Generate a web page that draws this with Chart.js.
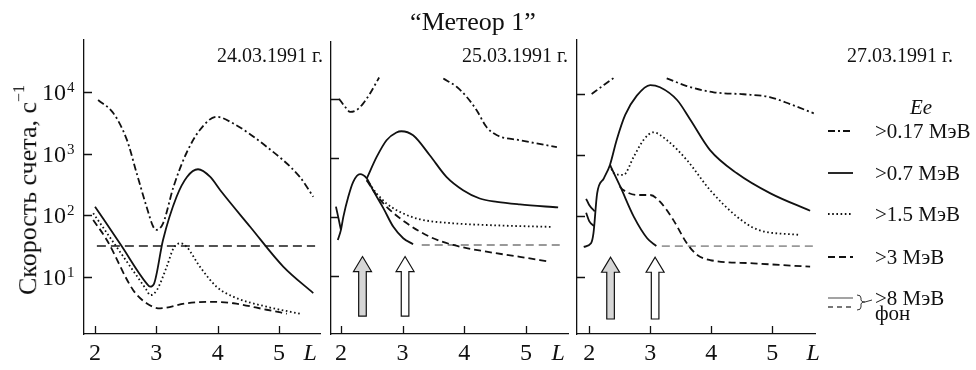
<!DOCTYPE html>
<html>
<head>
<meta charset="utf-8">
<script src="https://cdn.jsdelivr.net/npm/chart.js@4.4.1/dist/chart.umd.min.js"></script>
<style>
  body { margin: 0; width: 976px; height: 370px; background: #fff; position: relative; overflow: hidden;
         font-family: "Liberation Serif", "Times New Roman", serif; color: #111; }
  .box { position: absolute; top: 0; height: 370px; }
  .txt { position: absolute; white-space: nowrap; line-height: 1; z-index: 2; }
</style>
</head>
<body>
<div class="box" style="left:0;width:330px"><canvas id="c24" width="330" height="370"></canvas></div>
<div class="box" style="left:300px;width:280px"><canvas id="c25" width="280" height="370"></canvas></div>
<div class="box" style="left:560px;width:416px"><canvas id="c27" width="416" height="370"></canvas></div>
<div id="labels"></div>
<script>
const FONT = '"Liberation Serif", "Times New Roman", serif';

const satellite = '\u201cМетеор 1\u201d';
const dates = ['24.03.1991 г.', '25.03.1991 г.', '27.03.1991 г.'];
const channels = ['>0.17 МэВ', '>0.7 МэВ', '>1.5 МэВ', '>3 МэВ', '>8 МэВ', 'фон'];
const lTicks = [2, 3, 4, 5];
const rateTicks = [10, 100, 1000, 10000];

// 24.03.1991
const m24_017_L = [2.05, 2.30, 2.52, 2.68, 2.84, 2.95, 3.00, 3.11, 3.28, 3.49, 3.71, 3.98, 4.25, 4.80, 5.34, 5.56];
const m24_017 = [7500, 4550, 1680, 480, 138, 65, 58, 74, 290, 1020, 2440, 4000, 3130, 1300, 420, 200];
const m24_07_L = [2.00, 2.42, 2.84, 2.90, 2.96, 3.11, 3.33, 3.50, 3.68, 3.88, 4.04, 4.53, 5.07, 5.56];
const m24_07 = [138, 33, 7.8, 6.9, 7.6, 40, 200, 420, 560, 420, 257, 65, 14.6, 5.4];
const m24_15_L = [1.97, 2.40, 2.84, 2.90, 3.01, 3.17, 3.28, 3.39, 3.49, 3.71, 3.98, 4.26, 4.80, 5.34];
const m24_15 = [108, 26, 6.1, 5.0, 6.1, 14.6, 29, 35, 31, 14.6, 6.9, 4.7, 3.25, 2.5];
const m24_3_L = [1.97, 2.19, 2.62, 2.84, 3.06, 3.49, 3.93, 4.26, 4.80, 5.13];
const m24_3 = [84, 40, 6.1, 3.7, 3.06, 3.7, 3.9, 3.7, 2.9, 2.5];
const m24_bg_L = [2.03, 5.59];
const m24_bg = [31.6, 31.6];

// 25.03.1991
const m25_017a_L = [1.97, 2.07, 2.15, 2.25, 2.36, 2.47, 2.62];
const m25_017a = [10000, 7240, 5970, 6380, 8280, 12200, 22900];
const m25_017b_L = [3.66, 3.88, 4.04, 4.20, 4.36, 4.53, 4.90, 5.50];
const m25_017b = [22000, 15800, 10700, 6380, 3310, 2400, 1980, 1510];
const m25_07a_L = [1.95, 2.00, 2.04, 2.12, 2.20, 2.31, 2.42, 2.52, 2.69, 2.85, 3.01, 3.17];
const m25_07a = [40, 59, 99, 217, 389, 525, 444, 281, 138, 67, 43, 34];
const m25_07b_L = [2.42, 2.58, 2.74, 2.90, 2.98, 3.17, 3.44, 3.71, 3.98, 4.25, 4.53, 4.90, 5.52];
const m25_07b = [444, 1030, 1980, 2670, 2810, 2400, 1100, 473, 281, 203, 178, 161, 143];
const m25_15_L = [2.42, 2.58, 2.74, 3.01, 3.28, 3.82, 4.36, 4.90, 5.42];
const m25_15 = [420, 247, 167, 113, 90, 77, 72, 69, 67];
const m25_3_L = [2.42, 2.58, 2.74, 3.07, 3.44, 3.82, 4.36, 4.90, 5.39];
const m25_3 = [410, 231, 147, 77, 45.5, 33, 25.4, 20.8, 17.1];
const m25_hook_L = [1.92, 1.96, 2.00];
const m25_hook = [148, 95, 60];
const m25_bg_L = [3.31, 5.55];
const m25_bg = [33, 33];

// 27.03.1991
const m27_017a_L = [2.04, 2.24, 2.43];
const m27_017a = [9840, 13800, 18900];
const m27_017b_L = [3.27, 3.60, 4.04, 4.53, 4.97, 5.30, 5.68];
const m27_017b = [17800, 13300, 10500, 9750, 8710, 6680, 4760];
const m27_07a_L = [1.91, 2.03, 2.07, 2.13, 2.24, 2.34, 2.45, 2.59, 2.78, 3.00, 3.16, 3.44, 3.66, 3.98, 4.42, 4.97, 5.62];
const m27_07a = [31, 35.5, 52, 233, 411, 680, 1740, 4470, 9250, 13800, 12700, 7850, 3700, 1190, 497, 233, 121];
const m27_07b_L = [2.34, 2.51, 2.73, 2.95, 3.10];
const m27_07b = [680, 299, 97, 43, 32];
const m27_15_L = [2.34, 2.40, 2.56, 2.73, 2.89, 3.05, 3.27, 3.60, 3.98, 4.42, 4.75, 5.46];
const m27_15 = [680, 501, 466, 927, 1740, 2320, 1740, 818, 264, 97, 60, 48.5];
const m27_3_L = [2.50, 2.56, 2.78, 3.00, 3.16, 3.38, 3.60, 3.77, 3.98, 4.69, 5.62];
const m27_3 = [302, 264, 219, 219, 170, 85, 35.5, 22.8, 18.9, 16.7, 14.7];
const m27_hookA_L = [1.95, 2.00, 2.09];
const m27_hookA = [190, 150, 118];
const m27_hookB_L = [1.95, 2.00, 2.08];
const m27_hookB = [112, 82, 68];
const m27_bg_L = [3.19, 5.70];
const m27_bg = [32, 32];

// injection markers (L position of each arrow) and their vertical extent
const arrowL25 = [2.35, 3.04];
const arrowL27 = [2.35, 3.08];
const arrowTip = 21;
const arrowTail = 2.05;

const DASHDOT = [7, 3, 2, 3];
const DOT = [1.6, 2.6];
const DASH = [7, 4];
const BGDASH = [9, 5];

function line(xs, ys, dash, color) {
  return {
    data: xs.map((x, i) => ({ x, y: ys[i] })),
    borderColor: color || '#111',
    borderDash: dash || [],
    borderWidth: 1.8,
    pointRadius: 0,
    fill: false
  };
}

function drawArrow(ctx, x, yTip, yTail, fill) {
  const hw = 9, sw = 3.8, hh = 15;
  ctx.beginPath();
  ctx.moveTo(x, yTip);
  ctx.lineTo(x + hw, yTip + hh);
  ctx.lineTo(x + sw, yTip + hh);
  ctx.lineTo(x + sw, yTail);
  ctx.lineTo(x - sw, yTail);
  ctx.lineTo(x - sw, yTip + hh);
  ctx.lineTo(x - hw, yTip + hh);
  ctx.closePath();
  ctx.fillStyle = fill;
  ctx.fill();
  ctx.stroke();
}

// inward tick marks, power-of-ten labels, the "L" axis name, arrows and legend keys
const panelDecor = {
  id: 'panelDecor',
  afterDraw(chart, args, opts) {
    const { ctx, chartArea: a, scales: { x, y } } = chart;
    ctx.save();
    ctx.strokeStyle = '#111';
    ctx.lineWidth = 1.3;
    ctx.setLineDash([]);
    ctx.beginPath();
    y.ticks.forEach(t => {
      const py = Math.round(y.getPixelForValue(t.value)) + 0.5;
      ctx.moveTo(a.left, py);
      ctx.lineTo(a.left + 8, py);
    });
    x.ticks.forEach(t => {
      const px = Math.round(x.getPixelForValue(t.value)) + 0.5;
      ctx.moveTo(px, a.bottom);
      ctx.lineTo(px, a.bottom - 8);
    });
    ctx.stroke();

    ctx.fillStyle = '#111';
    if (opts.powerLabels) {
      y.ticks.forEach(t => {
        const py = y.getPixelForValue(t.value);
        ctx.font = '24px ' + FONT;
        ctx.textAlign = 'right';
        ctx.textBaseline = 'middle';
        ctx.fillText('10', a.left - 18, py + 1.5);
        ctx.font = '15px ' + FONT;
        ctx.textAlign = 'left';
        ctx.textBaseline = 'alphabetic';
        ctx.fillText(String(Math.round(Math.log10(t.value))), a.left - 17, py);
      });
    }

    ctx.font = 'italic 24px ' + FONT;
    ctx.textAlign = 'center';
    ctx.textBaseline = 'middle';
    ctx.fillText('L', x.getPixelForValue(opts.lAt), a.bottom + 20);

    if (opts.arrows) {
      ctx.lineWidth = 1.2;
      opts.arrows.forEach((l, i) => {
        drawArrow(ctx, x.getPixelForValue(l), y.getPixelForValue(arrowTip),
          y.getPixelForValue(arrowTail), i === 0 ? '#d6d6d6' : '#fff');
      });
    }

    if (opts.legendKeys) {
      const x0 = 268, x1 = 293;
      const keys = [
        { y: 131, dash: DASHDOT, color: '#111' },
        { y: 173, dash: [], color: '#111' },
        { y: 214, dash: DOT, color: '#111' },
        { y: 257, dash: DASH, color: '#111' },
        { y: 298, dash: [], color: '#999' },
        { y: 307, dash: [5, 4], color: '#777' }
      ];
      keys.forEach(k => {
        ctx.beginPath();
        ctx.setLineDash(k.dash);
        ctx.strokeStyle = k.color;
        ctx.lineWidth = 1.8;
        ctx.moveTo(x0, k.y);
        ctx.lineTo(x1, k.y);
        ctx.stroke();
      });
      // brace joining the two grey keys
      ctx.setLineDash([]);
      ctx.strokeStyle = '#333';
      ctx.lineWidth = 1;
      ctx.beginPath();
      ctx.moveTo(297, 295);
      ctx.quadraticCurveTo(301, 295, 301, 298);
      ctx.lineTo(301, 300);
      ctx.quadraticCurveTo(301, 302, 305, 302);
      ctx.quadraticCurveTo(301, 302, 301, 304);
      ctx.lineTo(301, 307);
      ctx.quadraticCurveTo(301, 310, 297, 310);
      ctx.moveTo(305, 302);
      ctx.lineTo(312, 300);
      ctx.stroke();
    }
    ctx.restore();
  }
};

function makePanel(id, p) {
  return new Chart(document.getElementById(id), {
    type: 'line',
    data: { datasets: p.datasets },
    options: {
      responsive: false,
      animation: false,
      events: [],
      layout: { padding: { top: p.top, right: p.right, left: 0, bottom: 0 } },
      elements: { line: { cubicInterpolationMode: 'monotone', borderCapStyle: 'butt' } },
      plugins: { legend: { display: false }, tooltip: { enabled: false }, panelDecor: p.decor },
      scales: {
        x: {
          type: 'linear', min: p.lMin, max: p.lMax,
          afterBuildTicks: s => { s.ticks = lTicks.map(v => ({ value: v })); },
          afterFit: s => { s.height = 36; },
          grid: { display: false, drawTicks: false },
          border: { color: '#111', width: 1.3 },
          ticks: { color: '#111', padding: 5, font: { family: FONT, size: 24 } }
        },
        y: {
          type: 'logarithmic', min: Math.pow(10, p.logMin), max: Math.pow(10, p.logMax),
          afterBuildTicks: s => { s.ticks = rateTicks.map(v => ({ value: v })); },
          afterFit: s => { s.width = p.yWidth; },
          grid: { display: false, drawTicks: false },
          border: { color: '#111', width: 1.3 },
          ticks: { display: false }
        }
      }
    },
    plugins: [panelDecor]
  });
}

makePanel('c24', {
  top: 40, right: 10, yWidth: 84, lMin: 1.82, lMax: 5.67, logMin: 0.068, logMax: 4.851,
  decor: { powerLabels: true, lAt: 5.51 },
  datasets: [
    line(m24_017_L, m24_017, DASHDOT),
    line(m24_07_L, m24_07),
    line(m24_15_L, m24_15, DOT),
    line(m24_3_L, m24_3, DASH),
    Object.assign(line(m24_bg_L, m24_bg, BGDASH, '#1a1a1a'), { borderWidth: 1.4 })
  ]
});

makePanel('c25', {
  top: 42, right: 12, yWidth: 31, lMin: 1.84, lMax: 5.68, logMin: 0.008, logMax: 4.963,
  decor: { lAt: 5.52, arrows: arrowL25 },
  datasets: [
    line(m25_017a_L, m25_017a, DASHDOT),
    line(m25_017b_L, m25_017b, DASHDOT),
    line(m25_07a_L, m25_07a),
    line(m25_07b_L, m25_07b),
    line(m25_15_L, m25_15, DOT),
    line(m25_3_L, m25_3, DASH),
    line(m25_hook_L, m25_hook),
    line(m25_bg_L, m25_bg, [8, 5], '#999')
  ]
});

makePanel('c27', {
  top: 40, right: 161, yWidth: 17, lMin: 1.80, lMax: 5.70, logMin: 0.066, logMax: 4.877,
  decor: { lAt: 5.67, arrows: arrowL27, legendKeys: true },
  datasets: [
    line(m27_017a_L, m27_017a, DASHDOT),
    line(m27_017b_L, m27_017b, DASHDOT),
    line(m27_07a_L, m27_07a),
    line(m27_07b_L, m27_07b),
    line(m27_15_L, m27_15, DOT),
    line(m27_3_L, m27_3, DASH),
    line(m27_hookA_L, m27_hookA),
    line(m27_hookB_L, m27_hookB),
    line(m27_bg_L, m27_bg, [8, 5], '#999')
  ]
});

// page text: title, dates, axis name and legend captions
const labels = document.getElementById('labels');
function addText(html, x, y, size, tx, extra) {
  const d = document.createElement('div');
  d.className = 'txt';
  d.innerHTML = html;
  d.style.left = x + 'px';
  d.style.top = y + 'px';
  d.style.fontSize = size + 'px';
  d.style.transform = tx;
  if (extra) Object.assign(d.style, extra);
  labels.appendChild(d);
}
addText(satellite, 473, 22, 26, 'translate(-50%,-50%)');
addText(dates[0], 323, 55, 20, 'translate(-100%,-50%)');
addText(dates[1], 568, 55, 20, 'translate(-100%,-50%)');
addText(dates[2], 847, 55, 20, 'translate(0,-50%)');
addText('Скорость счета, с<sup style="font-size:16px;position:relative;top:-2px">−1</sup>', 27, 190, 26,
  'translate(-50%,-50%) rotate(-90deg)');
addText('Ee', 921, 107, 21, 'translate(-50%,-50%)', { fontStyle: 'italic' });
[131, 173, 214, 257, 298, 313].forEach((y, i) => addText(channels[i], 875, y, 21, 'translate(0,-50%)'));
</script>
</body>
</html>
